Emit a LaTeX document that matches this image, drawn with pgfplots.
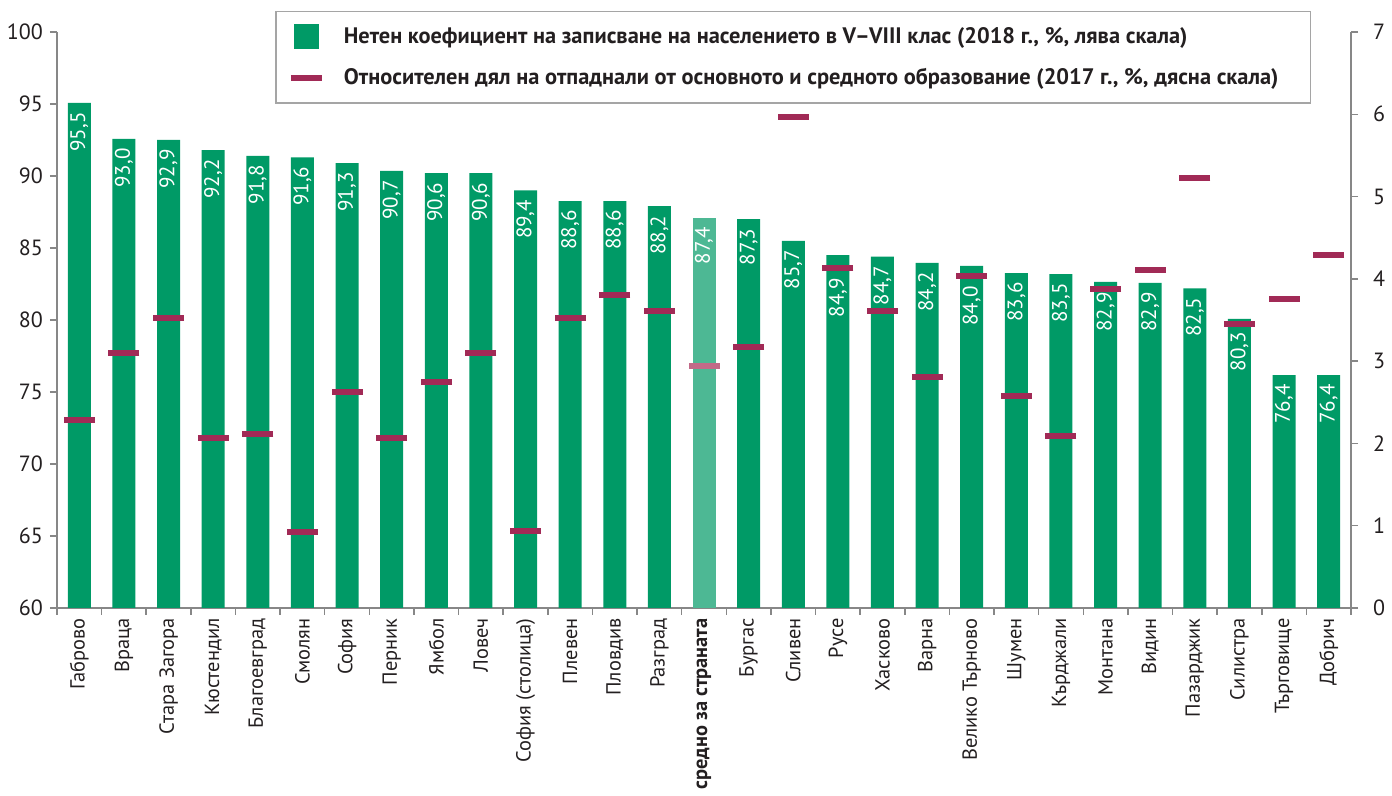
\documentclass[border=0pt]{standalone}
\usepackage{fontspec}
\setmainfont{PT Sans}
\usepackage{pgfplots}
\usepackage{pgfplotstable}
\pgfplotsset{compat=1.18}
\definecolor{barg}{HTML}{009A66}
\definecolor{barl}{HTML}{4DB894}
\definecolor{dropc}{HTML}{A12A56}
\definecolor{dropl}{HTML}{C26A88}
\definecolor{axg}{HTML}{878787}
\definecolor{legg}{HTML}{A5A5A5}
\definecolor{txt}{HTML}{231F20}

% bar heights (left scale)
\pgfplotstableread{
x h
0 95.07
1 92.57
2 92.50
3 91.80
4 91.40
5 91.30
6 90.90
7 90.35
8 90.20
9 90.20
10 89.00
11 88.26
12 88.26
13 87.90
15 87.00
16 85.50
17 84.50
18 84.40
19 83.96
20 83.75
21 83.26
22 83.19
23 82.64
24 82.57
25 82.20
26 80.07
27 76.18
28 76.18
}\enroll

\pgfplotstableread{
x h
14 87.08
}\enrollavg

% value labels: position of the label top and its text
\pgfplotstableread{
x ly lab
0 94.51 95,5
1 92.01 93,0
2 91.94 92,9
3 91.24 92,2
4 90.84 91,8
5 90.74 91,6
6 90.34 91,3
7 89.79 90,7
8 89.64 90,6
9 89.64 90,6
10 88.44 89,4
11 87.70 88,6
12 87.70 88,6
13 87.34 88,2
14 86.52 87,4
15 86.44 87,3
16 84.94 85,7
17 82.99 84,9
18 83.84 84,7
19 83.40 84,2
20 82.43 84,0
21 82.70 83,6
22 82.63 83,5
23 82.01 82,9
24 82.01 82,9
25 81.64 82,5
26 79.24 80,3
27 75.62 76,4
28 75.62 76,4
}\labels

% dropout share (right scale)
\pgfplotstableread{
x d
0 2.285
1 3.10
2 3.52
3 2.07
4 2.11
5 0.92
6 2.62
7 2.07
8 2.75
9 3.10
10 0.94
11 3.52
12 3.80
13 3.61
15 3.175
16 5.97
17 4.13
18 3.61
19 2.81
20 4.03
21 2.58
22 2.09
23 3.88
24 4.11
25 5.23
26 3.45
27 3.75
28 4.29
}\dropout

\pgfplotstableread{
x d
14 2.945
}\dropoutavg

\begin{document}
\begin{tikzpicture}
\useasboundingbox (0,0) rectangle (696pt,398pt);
\begin{axis}[
  at={(28.5pt,94pt)}, anchor=south west,
  width=647pt, height=288pt, scale only axis,
  xmin=-0.5, xmax=28.5, ymin=60, ymax=100,
  axis y line*=left, axis x line*=bottom,
  ytick={60,65,...,100},
  xtick={0,...,28},
  xticklabels={Габрово,Враца,Стара Загора,Кюстендил,Благоевград,Смолян,София,Перник,Ямбол,Ловеч,София (столица),Плевен,Пловдив,Разград,{\bfseries средно за страната},Бургас,Сливен,Русе,Хасково,Варна,Велико Търново,Шумен,Кърджали,Монтана,Видин,Пазарджик,Силистра,Търговище,Добрич},
  minor xtick={-0.5,0.5,...,28.5},
  major x tick style={draw=none},
  tick align=outside,
  tick style={axg, line width=0.75pt},
  major tick length=3.5pt, minor tick length=3.5pt,
  axis line style={axg, line width=0.75pt},
  /pgf/number format/assume math mode=true,
  ticklabel style={font=\fontsize{11}{13}\selectfont, text=txt},
  xticklabel style={rotate=90, anchor=east, font=\fontsize{10.2}{12}\selectfont, inner xsep=1.5pt},
  ybar, bar width=11.5pt, bar shift=0pt,
]
\addplot[fill=barg, draw=none] table[x=x, y=h]{\enroll};
\addplot[fill=barl, draw=none] table[x=x, y=h]{\enrollavg};
\addplot[sharp plot, draw=none, mark=none,
  nodes near coords, point meta=explicit symbolic,
  every node near coord/.append style={rotate=90, anchor=east, text=white,
    font=\fontsize{10.5}{12}\selectfont, inner xsep=0.5pt}]
  table[x=x, y=ly, meta=lab]{\labels};
\end{axis}
\begin{axis}[
  at={(28.5pt,94pt)}, anchor=south west,
  width=647pt, height=288pt, scale only axis,
  xmin=-0.5, xmax=28.5, ymin=0, ymax=7,
  axis y line*=right, axis x line=none,
  ytick={0,...,7},
  tick align=outside,
  tick style={axg, line width=0.75pt},
  major tick length=3.5pt,
  axis line style={axg, line width=0.75pt},
  /pgf/number format/assume math mode=true,
  ticklabel style={font=\fontsize{11}{13}\selectfont, text=txt},
  yticklabel style={xshift=4pt},
  legend style={at={(0.1685,1.0365)}, anchor=north west, draw=legg, line width=0.75pt,
    font=\bfseries\fontsize{11.2}{13}\selectfont, text=txt, fill=white,
    row sep=7pt, inner xsep=6pt, inner ysep=5.75pt,
    /tikz/every odd column/.append style={column sep=7.5pt}},
  legend cell align=left,
]
\addlegendimage{legend image code/.code={\fill[barg] (0pt,-5.75pt) rectangle (11.5pt,5.75pt);}}
\addlegendentry{Нетен коефициент на записване на населението в V–VIII клас (2018 г., \%, лява скала)}
\addplot[only marks, mark=-, mark size=7.75pt, dropc, mark options={line width=3pt},
  legend image code/.code={\draw[dropc, line width=3pt] (-2pt,0pt) -- (13.5pt,0pt);}]
  table[x=x, y=d]{\dropout};
\addlegendentry{\hbox{Относителен дял на отпаднали от основното и средното образование (2017 г., \%, дясна скала)\kern8pt}}
\addplot[only marks, mark=-, mark size=7.75pt, dropl, mark options={line width=3pt}, forget plot]
  table[x=x, y=d]{\dropoutavg};
\end{axis}
\end{tikzpicture}
\end{document}
